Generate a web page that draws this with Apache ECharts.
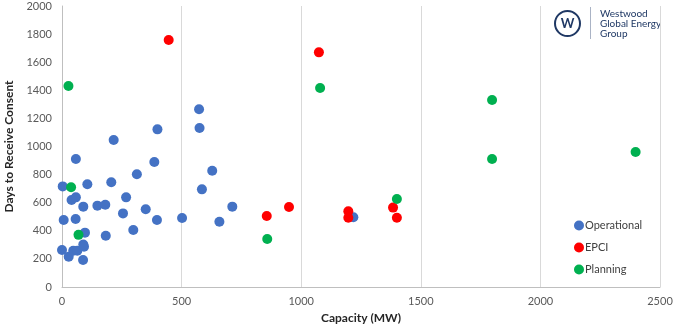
<!DOCTYPE html>
<html>
<head>
<meta charset="utf-8">
<script src="https://cdn.jsdelivr.net/npm/echarts@6/dist/echarts.min.js"></script>
<style>html,body{margin:0;padding:0;background:#fff}#c{width:680px;height:325px}</style>
</head>
<body>
<div id="c"></div>
<script>
const xTicks = [0, 500, 1000, 1500, 2000, 2500];
const yTicks = [0, 200, 400, 600, 800, 1000, 1200, 1400, 1600, 1800, 2000];
const seriesNames = ['Operational', 'EPCI', 'Planning'];

const opCapacity = [573,575,399,216,58,386,313,628,3,106,206,585,268,40,58,89,148,181,712,255,350,7,57,397,502,658,96,183,298,0,28,47,64,89,92,88,1218];
const opDays     = [1265,1132,1122,1046,911,890,802,828,716,731,745,695,638,619,638,572,579,586,572,524,553,477,484,477,491,465,387,365,406,263,216,258,258,303,287,192,496];

const epciCapacity = [446,1074,856,949,1197,1197,1384,1400];
const epciDays     = [1758,1670,505,569,539,493,565,493];

const planCapacity = [27,38,69,1079,858,1400,1798,1798,2398];
const planDays     = [1430,710,371,1416,342,626,1331,911,961];

const zip = (a, b) => a.map((v, i) => [v, b[i]]);
const colors = ['#4472c4', '#ff0000', '#00b050'];
const font = 'Lato, Carlito, "Liberation Sans", sans-serif';

const chart = echarts.init(document.getElementById('c'));
chart.setOption({
  animation: false,
  textStyle: { fontFamily: font },
  grid: { left: 62, right: 20, top: 6, bottom: 38, containLabel: false, outerBoundsMode: 'none' },
  xAxis: {
    type: 'value', min: xTicks[0], max: xTicks[xTicks.length - 1], interval: 500,
    name: 'Capacity (MW)', nameLocation: 'middle', nameGap: 21,
    nameTextStyle: { fontFamily: font, fontSize: 12, fontWeight: 'bold', color: '#262626' },
    axisLine: { show: true, lineStyle: { color: '#bfbfbf' } },
    axisTick: { show: false },
    axisLabel: { fontFamily: font, fontSize: 11, color: '#595959', margin: 9, formatter: v => String(v) },
    splitLine: { show: true, lineStyle: { color: '#d9d9d9' } }
  },
  yAxis: {
    type: 'value', min: yTicks[0], max: yTicks[yTicks.length - 1], interval: 200,
    name: 'Days to Receive Consent', nameLocation: 'middle', nameGap: 44,
    nameTextStyle: { fontFamily: font, fontSize: 12, fontWeight: 'bold', color: '#262626' },
    axisLine: { show: true, lineStyle: { color: '#bfbfbf' } },
    axisTick: { show: false },
    axisLabel: { fontFamily: font, fontSize: 11, color: '#595959', margin: 10, formatter: v => String(v) },
    splitLine: { show: false }
  },
  legend: {
    orient: 'vertical', left: 569, top: 215, itemGap: 11,
    itemWidth: 10, itemHeight: 10, icon: 'circle',
    textStyle: { fontFamily: font, fontSize: 11, color: '#404040', padding: [0, 0, 0, -4] },
    data: seriesNames
  },
  graphic: [
    { type: 'circle', shape: { cx: 567.5, cy: 23.5, r: 12.5 }, style: { fill: '#fff', stroke: '#1f3864', lineWidth: 2 } },
    { type: 'text', x: 567.5, y: 24, style: { text: 'W', fill: '#1f3864', font: 'bold 13px ' + font, align: 'center', verticalAlign: 'middle' } },
    { type: 'rect', shape: { x: 590, y: 7, width: 1, height: 32 }, style: { fill: '#aab3c5' } },
    { type: 'text', x: 600, y: 9, style: { text: 'Westwood\nGlobal Energy\nGroup', fill: '#1f3864', font: '10px ' + font, lineHeight: 10 } }
  ],
  series: [
    { name: seriesNames[0], type: 'scatter', symbolSize: 10, itemStyle: { color: colors[0], opacity: 1 }, data: zip(opCapacity, opDays) },
    { name: seriesNames[1], type: 'scatter', symbolSize: 10, itemStyle: { color: colors[1], opacity: 1 }, data: zip(epciCapacity, epciDays) },
    { name: seriesNames[2], type: 'scatter', symbolSize: 10, itemStyle: { color: colors[2], opacity: 1 }, data: zip(planCapacity, planDays) }
  ]
});
</script>
</body>
</html>
